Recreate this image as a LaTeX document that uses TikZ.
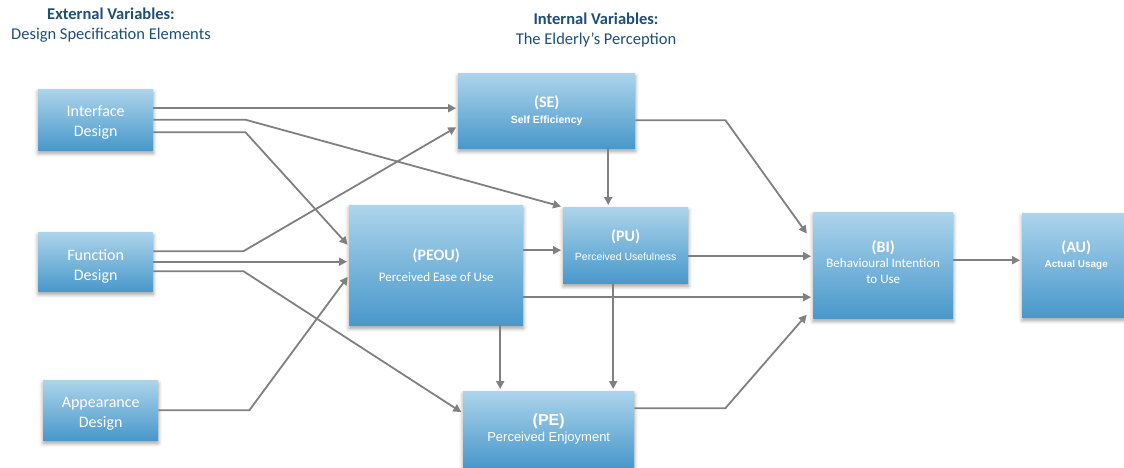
\documentclass[tikz,border=0pt]{standalone}
\usepackage{fontspec}
\setmainfont{Carlito}
\newfontfamily\arialf{Liberation Sans}
\usetikzlibrary{arrows.meta,shadows.blur}

\definecolor{boxtop}{HTML}{ADD4EB}
\definecolor{boxbot}{HTML}{4898CB}
\definecolor{wire}{HTML}{808080}
\definecolor{navy}{HTML}{1F4E79}

\tikzset{
  varbox/.style={rectangle, anchor=north west, inner sep=0pt,
    top color=boxtop, bottom color=boxbot, text=white, align=center,
    blur shadow={shadow xshift=0pt, shadow yshift=-3pt,
      shadow blur radius=4pt, shadow opacity=40}},
  boxlabel/.style={text=white, align=center},
  link/.style={draw=wire, line width=1.8pt,
    -{Triangle[length=8pt,width=8pt]}, shorten >=2pt},
  heading/.style={text=navy, align=center, font=\fontsize{16.5}{20}\selectfont}
}

\begin{document}
\begin{tikzpicture}[x=1pt, y=-1pt]
\useasboundingbox (0,0) rectangle (1124,468);

% headings
\node[heading] (ext) at (111,25) {\textbf{External Variables:}\\Design Specification Elements};
\node[heading] (int) at (596,30) {\textbf{Internal Variables:}\\The Elderly’s Perception};

% external variables
\node[varbox, minimum width=115pt, minimum height=61pt] (ID) at (38,89) {};
\node[boxlabel, font=\fontsize{16}{20}\selectfont] (IDtext) at ([yshift=-3pt]ID.center) {Interface\\Design};
\node[varbox, minimum width=115pt, minimum height=59pt] (FD) at (38,232) {};
\node[boxlabel, font=\fontsize{16}{20}\selectfont] (FDtext) at ([yshift=-5pt]FD.center) {Function\\Design};
\node[varbox, minimum width=115pt, minimum height=60pt] (AD) at (43,380) {};
\node[boxlabel, font=\fontsize{16}{20}\selectfont] (ADtext) at ([yshift=-4pt]AD.center) {Appearance\\Design};

% internal variables
\node[varbox, minimum width=177pt, minimum height=75pt, font=\fontsize{16}{17}\selectfont]
  (SE) at (458,73) {\textbf{(SE)}\\[-1pt]{\arialf\bfseries\fontsize{10.5}{17}\selectfont Self Efficiency}};
\node[varbox, minimum width=174pt, minimum height=120pt, font=\fontsize{16}{21}\selectfont]
  (PEOU) at (349,205) {\textbf{(PEOU)}\\{\fontsize{13}{21}\selectfont Perceived Ease of Use}};
\node[varbox, minimum width=125pt, minimum height=76pt, font=\fontsize{16}{19}\selectfont]
  (PU) at (563,207) {\textbf{(PU)}\\{\arialf\fontsize{10.5}{19}\selectfont Perceived Usefulness}};
\node[varbox, minimum width=171pt, minimum height=76pt, font=\fontsize{16}{16}\selectfont]
  (PE) at (463,391) {{\arialf\bfseries (PE)}\\{\arialf\fontsize{13}{16}\selectfont Perceived Enjoyment}};
\node[varbox, minimum width=140pt, minimum height=106pt] (BI) at (813,212) {};
\node[boxlabel, font=\fontsize{16}{16}\selectfont] (BItext) at ([yshift=3pt]BI.center)
  {\textbf{(BI)}\\[-1pt]{\fontsize{13}{16}\selectfont Behavioural Intention}\\{\fontsize{13}{16}\selectfont to Use}};
\node[varbox, minimum width=108pt, minimum height=104pt] (AU) at (1022,213) {};
\node[boxlabel, font=\fontsize{16}{15}\selectfont] (AUtext) at ([yshift=10pt]AU.center)
  {\textbf{(AU)}\\{\arialf\bfseries\fontsize{10}{15}\selectfont Actual Usage}};

% connection points
\coordinate (i1) at ([yshift=11.5pt]ID.east);
\coordinate (i3) at ([yshift=-12.5pt]ID.east);
\coordinate (f1) at ([yshift=10.5pt]FD.east);
\coordinate (f3) at ([yshift=-9.5pt]FD.east);
\coordinate (s1) at ([xshift=61.5pt]SE.south);
\coordinate (s2) at ([yshift=-9.5pt]SE.east);
\coordinate (p1) at ([yshift=15pt]PEOU.east);
\coordinate (p2) at ([yshift=-32pt]PEOU.east);
\coordinate (p3) at ([xshift=64pt]PEOU.south);
\coordinate (u1) at ([xshift=-12.5pt]PU.south);
\coordinate (u2) at ([yshift=-11pt]PU.east);
\coordinate (e1) at ([yshift=21pt]PE.east);
\coordinate (b1) at ([yshift=5pt]BI.east);

% design elements -> perceptions
\draw[link] (i1) -- (i1 -| SE.west);
\draw[link] (ID.east) -- ++(92,0) -- (PU.north west);
\draw[link] (i3) -- ++(92,0) -- ([yshift=19pt]PEOU.west);
\draw[link] (f1) -- ++(90,0) -- ([yshift=-15.5pt]SE.west);
\draw[link] (FD.east) -- (FD.east -| PEOU.west);
\draw[link] (f3) -- ++(90,0) -- ([yshift=16pt]PE.west);
\draw[link] (AD.east) -- ++(91,0) -- ([yshift=-10pt]PEOU.west);

% among perceptions
\draw[link] (s1) -- (s1 |- PU.north);
\draw[link] (s2) -- ++(90,0) -- ([xshift=-5pt,yshift=30pt]BI.west);
\draw[link] (p1) -- (p1 -| PU.west);
\draw[link] (p2) -- (p2 -| BI.west);
\draw[link] (p3) -- (p3 |- PE.north);
\draw[link] (u1) -- (u1 |- PE.north);
\draw[link] (u2) -- (u2 -| BI.west);
\draw[link] (e1) -- ++(91,0) -- ([xshift=-5pt,yshift=-48pt]BI.west);
\draw[link] (b1) -- (b1 -| AU.west);
\end{tikzpicture}
\end{document}
